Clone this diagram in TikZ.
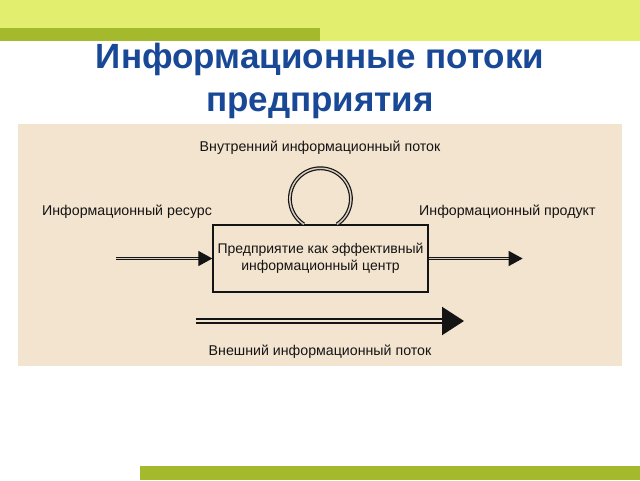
\documentclass[tikz,border=0pt]{standalone}
\usepackage{fontspec}
\setmainfont{Liberation Sans}
\usetikzlibrary{arrows.meta}
\definecolor{bandlight}{RGB}{226,239,110}
\definecolor{bandolive}{RGB}{164,185,43}
\definecolor{beige}{RGB}{243,228,207}
\definecolor{titleblue}{RGB}{24,72,150}
\definecolor{ink}{RGB}{20,20,20}
\definecolor{gapgrey}{RGB}{215,205,190}
\tikzset{
  titletext/.style={text=titleblue, font=\fontsize{35}{40}\selectfont\bfseries, anchor=base, inner sep=0},
  lbl/.style={text=ink, font=\fontsize{14.2}{17}\selectfont, inner sep=0},
  mainbox/.style={draw=ink, line width=1.3pt, minimum width=215pt, minimum height=67pt, align=center,
     text=ink, font=\fontsize{14}{17.5}\selectfont},
  dbl/.style={draw=ink, double=gapgrey, line width=1.2pt, double distance=1.5pt},
  flow/.style={dbl, -{Triangle[length=14pt,width=15pt]}},
  bigflow/.style={draw=ink, double=beige, line width=2.2pt, double distance=1.5pt, -{Triangle[length=22pt,width=28pt]}}
}
\begin{document}
\begin{tikzpicture}[x=1pt,y=-1pt]
\useasboundingbox (0,0) rectangle (640,480);
\fill[white] (0,0) rectangle (640,480);
\fill[bandlight] (0,0) rectangle (640,41);
\fill[bandolive] (0,28) rectangle (320,41);
\fill[bandolive] (140,466) rectangle (640,480);
\fill[beige] (18,124) rectangle (622,366);
\node[titletext] (t1) at (320,68) {Информационные потоки};
\node[titletext] (t2) at (320,111) {предприятия};
\node[mainbox] (box) at (320.5,258.5) {Предприятие как эффективный\\информационный центр};
\node[lbl] (inner) at (320,148) {Внутренний информационный поток};
\node[lbl, anchor=west] (res) at (42,212) {Информационный ресурс};
\node[lbl, anchor=west] (prod) at (419,212) {Информационный продукт};
\node[lbl] (ext) at (320,352) {Внешний информационный поток};
\coordinate (inL) at ([xshift=-96pt]box.west);
\coordinate (outR) at ([xshift=94pt]box.east);
\coordinate (ext1) at (196,321);
\coordinate (ext2) at (464,321);
\draw[flow] (inL) -- (box.west);
\draw[flow] (box.east) -- (outR);
\draw[bigflow] (ext1) -- (ext2);
\draw[dbl] ([xshift=16.5pt]box.north) arc[start angle=57, end angle=-237, radius=30.5];
\end{tikzpicture}
\end{document}
